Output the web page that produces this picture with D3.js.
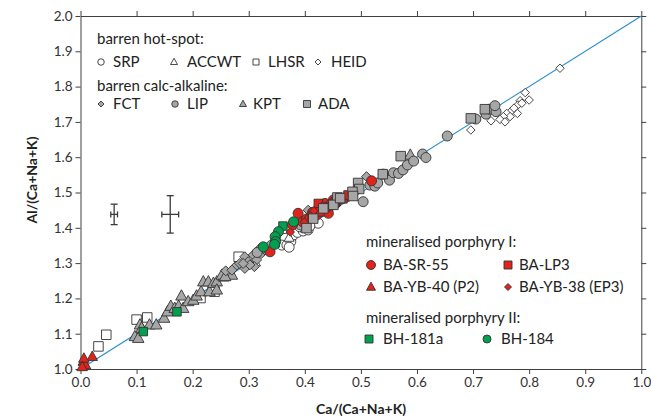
<!DOCTYPE html>
<html>
<head>
<meta charset="utf-8">
<script src="https://cdn.jsdelivr.net/npm/d3@7"></script>
<style>
  body { margin: 0; background: #fff; }
  svg { display: block; font-family: Lato, "Open Sans", sans-serif; }
</style>
</head>
<body>
<div id="chart"></div>
<script>
// barren hot-spot
const srp = [[0.365,1.370],[0.359,1.351],[0.368,1.351],[0.375,1.361],[0.380,1.380],[0.387,1.387],[0.397,1.391],[0.406,1.394],[0.424,1.413],[0.403,1.408],[0.391,1.403],[0.409,1.405],[0.372,1.345]];
const accwt = [[0.312,1.302],[0.372,1.372],[0.401,1.398]];
const lhsr = [[0.032,1.064],[0.046,1.097],[0.100,1.140],[0.119,1.146],[0.214,1.201],[0.236,1.224],[0.282,1.318],[0.239,1.219]];
const heid = [[0.855,1.852],[0.793,1.783],[0.800,1.762],[0.784,1.760],[0.780,1.748],[0.787,1.753],[0.779,1.724],[0.767,1.729],[0.760,1.724],[0.766,1.715],[0.754,1.715],[0.748,1.707],[0.757,1.700],[0.732,1.703],[0.696,1.677],[0.773,1.739]];
// barren calc-alkaline
const fct = [[0.276,1.290],[0.284,1.299],[0.293,1.318],[0.299,1.304],[0.308,1.323],[0.314,1.309],[0.320,1.342],[0.323,1.328],[0.329,1.337],[0.310,1.290],[0.293,1.285],[0.302,1.295],[0.290,1.299],[0.326,1.342],[0.406,1.450],[0.510,1.545],[0.259,1.278],[0.270,1.280],[0.398,1.420],[0.390,1.412]];
const lip = [[0.504,1.474],[0.516,1.521],[0.525,1.518],[0.540,1.552],[0.551,1.535],[0.558,1.556],[0.567,1.554],[0.575,1.564],[0.583,1.578],[0.594,1.589],[0.610,1.609],[0.616,1.599],[0.654,1.660],[0.705,1.708],[0.723,1.722],[0.730,1.736],[0.741,1.729],[0.739,1.746],[0.530,1.527],[0.315,1.330],[0.340,1.350],[0.392,1.408]];
const kpt = [[0.097,1.092],[0.103,1.087],[0.106,1.125],[0.109,1.116],[0.123,1.125],[0.135,1.125],[0.149,1.144],[0.155,1.162],[0.161,1.178],[0.168,1.172],[0.175,1.178],[0.183,1.172],[0.180,1.207],[0.192,1.191],[0.201,1.195],[0.207,1.207],[0.215,1.219],[0.219,1.247],[0.228,1.247],[0.230,1.219],[0.237,1.243],[0.243,1.247],[0.255,1.261],[0.270,1.266],[0.252,1.266],[0.258,1.262],[0.243,1.224],[0.588,1.606]];
const ada = [[0.571,1.603],[0.495,1.527],[0.497,1.510],[0.485,1.502],[0.458,1.486],[0.451,1.465],[0.433,1.455],[0.415,1.426],[0.403,1.399],[0.539,1.552],[0.696,1.710],[0.721,1.736],[0.463,1.484],[0.486,1.490]];
// mineralised porphyry I
const sr55 = [[0.388,1.441],[0.396,1.417],[0.403,1.425],[0.421,1.436],[0.429,1.455],[0.436,1.469],[0.445,1.465],[0.442,1.441],[0.451,1.479],[0.466,1.484],[0.475,1.488],[0.378,1.408],[0.519,1.533],[0.338,1.332],[0.409,1.427],[0.414,1.444],[0.456,1.470]];
const lp3 = [[0.424,1.469],[0.454,1.473],[0.468,1.482],[0.427,1.445],[0.413,1.433],[0.438,1.459],[0.477,1.493]];
const yb40 = [[0.005,1.021],[0.009,1.011],[0.021,1.035],[0.006,1.030],[0.003,1.006]];
const yb38 = [[0.399,1.416],[0.416,1.448],[0.431,1.462],[0.457,1.476],[0.374,1.388]];
// mineralised porphyry II
const bh181a = [[0.112,1.106],[0.172,1.162],[0.347,1.357],[0.361,1.405]];
const bh184 = [[0.353,1.389],[0.347,1.375],[0.348,1.361],[0.346,1.353],[0.380,1.417],[0.326,1.346]];

// analytical error bars: centre, half-widths
const errX = [0.06, 0.16];
const errY = [1.438, 1.438];
const errDx = [0.006, 0.015];
const errDy = [0.029, 0.053];

const xTicks = [0, 0.1, 0.2, 0.3, 0.4, 0.5, 0.6, 0.7, 0.8, 0.9, 1.0];
const yTicks = [1.0, 1.1, 1.2, 1.3, 1.4, 1.5, 1.6, 1.7, 1.8, 1.9, 2.0];

const RED = '#e0231b', GREEN = '#00a04e', GRAY = '#a6a6a6', EDGE = '#333';

const width = 651, height = 420;
const svg = d3.select('#chart').append('svg')
  .attr('width', width).attr('height', height);

const x = d3.scaleLinear().domain([0, 1]).range([80.5, 641.3]);
const y = d3.scaleLinear().domain([1, 2]).range([369, 16]);

function shapePath(shape, s) {
  if (shape === 'circle') return d3.symbol(d3.symbolCircle, Math.PI * s * s / 4)();
  if (shape === 'square') return d3.symbol(d3.symbolSquare, s * s)();
  if (shape === 'triangle') {
    const h = s * 0.9;
    return `M0,${-h * 0.6}L${s / 2},${h * 0.4}L${-s / 2},${h * 0.4}Z`;
  }
  const r = s / 2;
  return `M0,${-r}L${r},0L0,${r}L${-r},0Z`;
}

// frame + axes
const fmt = d3.format('.1f');
const axisColor = '#404040';
function styleAxis(g) {
  g.select('.domain').attr('stroke', axisColor);
  g.selectAll('.tick line').attr('stroke', axisColor);
  g.selectAll('.tick text').attr('fill', '#333').style('font-size', '13.5px')
    .style('font-family', 'Lato, "Open Sans", sans-serif');
}
svg.append('g').attr('transform', `translate(0,${y(1)})`)
  .call(d3.axisBottom(x).tickValues(xTicks).tickFormat(fmt).tickSize(5).tickSizeOuter(0).tickPadding(3))
  .call(styleAxis);
svg.append('g').attr('transform', `translate(0,${y(2)})`)
  .call(d3.axisTop(x).tickValues(xTicks).tickFormat('').tickSize(5).tickSizeOuter(0))
  .call(styleAxis);
svg.append('g').attr('transform', `translate(${x(0)},0)`)
  .call(d3.axisLeft(y).tickValues(yTicks).tickFormat(fmt).tickSize(5).tickSizeOuter(0).tickPadding(3))
  .call(styleAxis);
svg.append('g').attr('transform', `translate(${x(1)},0)`)
  .call(d3.axisRight(y).tickValues(yTicks).tickFormat('').tickSize(5).tickSizeOuter(0))
  .call(styleAxis);

// 1:1 reference line
svg.append('line')
  .attr('x1', x(0)).attr('y1', y(1)).attr('x2', x(1)).attr('y2', y(2))
  .attr('stroke', '#2a8fd0').attr('stroke-width', 1.2);

// axis titles
svg.append('text').attr('x', 361).attr('y', 414).attr('text-anchor', 'middle')
  .style('font-size', '14px').style('font-weight', 'bold').attr('fill', '#222')
  .text('Ca/(Ca+Na+K)');
svg.append('text').attr('transform', 'translate(37,180) rotate(-90)').attr('text-anchor', 'middle')
  .style('font-size', '14px').style('font-weight', 'bold').attr('fill', '#222')
  .text('Al/(Ca+Na+K)');

// error bars
const eb = svg.append('g').attr('stroke', '#3a3a3a').attr('stroke-width', 1.3);
errX.forEach((cx, i) => {
  const px = x(cx), py = y(errY[i]);
  const x0 = x(cx - errDx[i]), x1 = x(cx + errDx[i]);
  const y0 = y(errY[i] - errDy[i]), y1 = y(errY[i] + errDy[i]);
  eb.append('line').attr('x1', px).attr('x2', px).attr('y1', y0).attr('y2', y1);
  eb.append('line').attr('x1', x0).attr('x2', x1).attr('y1', py).attr('y2', py);
  eb.append('line').attr('x1', px - 3.5).attr('x2', px + 3.5).attr('y1', y0).attr('y2', y0);
  eb.append('line').attr('x1', px - 3.5).attr('x2', px + 3.5).attr('y1', y1).attr('y2', y1);
  eb.append('line').attr('x1', x0).attr('x2', x0).attr('y1', py - 3).attr('y2', py + 3);
  eb.append('line').attr('x1', x1).attr('x2', x1).attr('y1', py - 3).attr('y2', py + 3);
});

// data series in plotting order
const series = [
  { data: srp, shape: 'circle', fill: '#fff', size: 10 },
  { data: accwt, shape: 'triangle', fill: '#fff', size: 10 },
  { data: lhsr, shape: 'square', fill: '#fff', size: 9.5 },
  { data: heid, shape: 'diamond', fill: '#fff', size: 8.5 },
  { data: kpt, shape: 'triangle', fill: GRAY, size: 11.5 },
  { data: fct, shape: 'diamond', fill: GRAY, size: 10 },
  { data: lip, shape: 'circle', fill: GRAY, size: 10 },
  { data: sr55, shape: 'circle', fill: RED, size: 10 },
  { data: lp3, shape: 'square', fill: RED, size: 8.5 },
  { data: yb40, shape: 'triangle', fill: RED, size: 10.5 },
  { data: yb38, shape: 'diamond', fill: RED, size: 8.5 },
  { data: bh181a, shape: 'square', fill: GREEN, size: 8.5 },
  { data: bh184, shape: 'circle', fill: GREEN, size: 10 },
  { data: ada, shape: 'square', fill: GRAY, size: 9.5 }
];

const pts = svg.append('g');
series.forEach(s => {
  pts.append('g').selectAll('path')
    .data(s.data)
    .enter()
    .append('path')
    .attr('d', shapePath(s.shape, s.size))
    .attr('transform', d => `translate(${x(d[0])},${y(d[1])})`)
    .attr('fill', s.fill)
    .attr('stroke', EDGE)
    .attr('stroke-width', 0.9);
});

// legends
const leg = svg.append('g').style('font-size', '15px').attr('fill', '#222');
function legendItem(mx, my, tx, shape, fill, size, label) {
  leg.append('path').attr('d', shapePath(shape, size))
    .attr('transform', `translate(${mx},${my})`)
    .attr('fill', fill).attr('stroke', EDGE).attr('stroke-width', 0.9);
  leg.append('text').attr('x', tx).attr('y', my + 5).text(label);
}

leg.append('text').attr('x', 97).attr('y', 44).text('barren hot-spot:');
legendItem(101, 62, 113, 'circle', '#fff', 6.5, 'SRP');
legendItem(174, 62, 187, 'triangle', '#fff', 7, 'ACCWT');
legendItem(256, 62, 268, 'square', '#fff', 6, 'LHSR');
legendItem(318, 62, 331, 'diamond', '#fff', 6, 'HEID');

leg.append('text').attr('x', 97).attr('y', 91).text('barren calc-alkaline:');
legendItem(101, 104, 113, 'diamond', GRAY, 6, 'FCT');
legendItem(175, 104, 187, 'circle', GRAY, 6.5, 'LIP');
legendItem(243, 104, 253, 'triangle', GRAY, 7, 'KPT');
legendItem(307, 104, 318, 'square', GRAY, 7, 'ADA');

leg.append('text').attr('x', 366).attr('y', 247).text('mineralised porphyry I:');
legendItem(371, 265, 383, 'circle', RED, 9, 'BA-SR-55');
legendItem(508, 265, 519, 'square', RED, 8, 'BA-LP3');
legendItem(371, 287, 383, 'triangle', RED, 9, 'BA-YB-40 (P2)');
legendItem(508, 287, 519, 'diamond', RED, 7, 'BA-YB-38 (EP3)');

leg.append('text').attr('x', 366).attr('y', 323).text('mineralised porphyry II:');
legendItem(369, 339, 383, 'square', GREEN, 8, 'BH-181a');
legendItem(487, 339, 501, 'circle', GREEN, 8, 'BH-184');
</script>
</body>
</html>
